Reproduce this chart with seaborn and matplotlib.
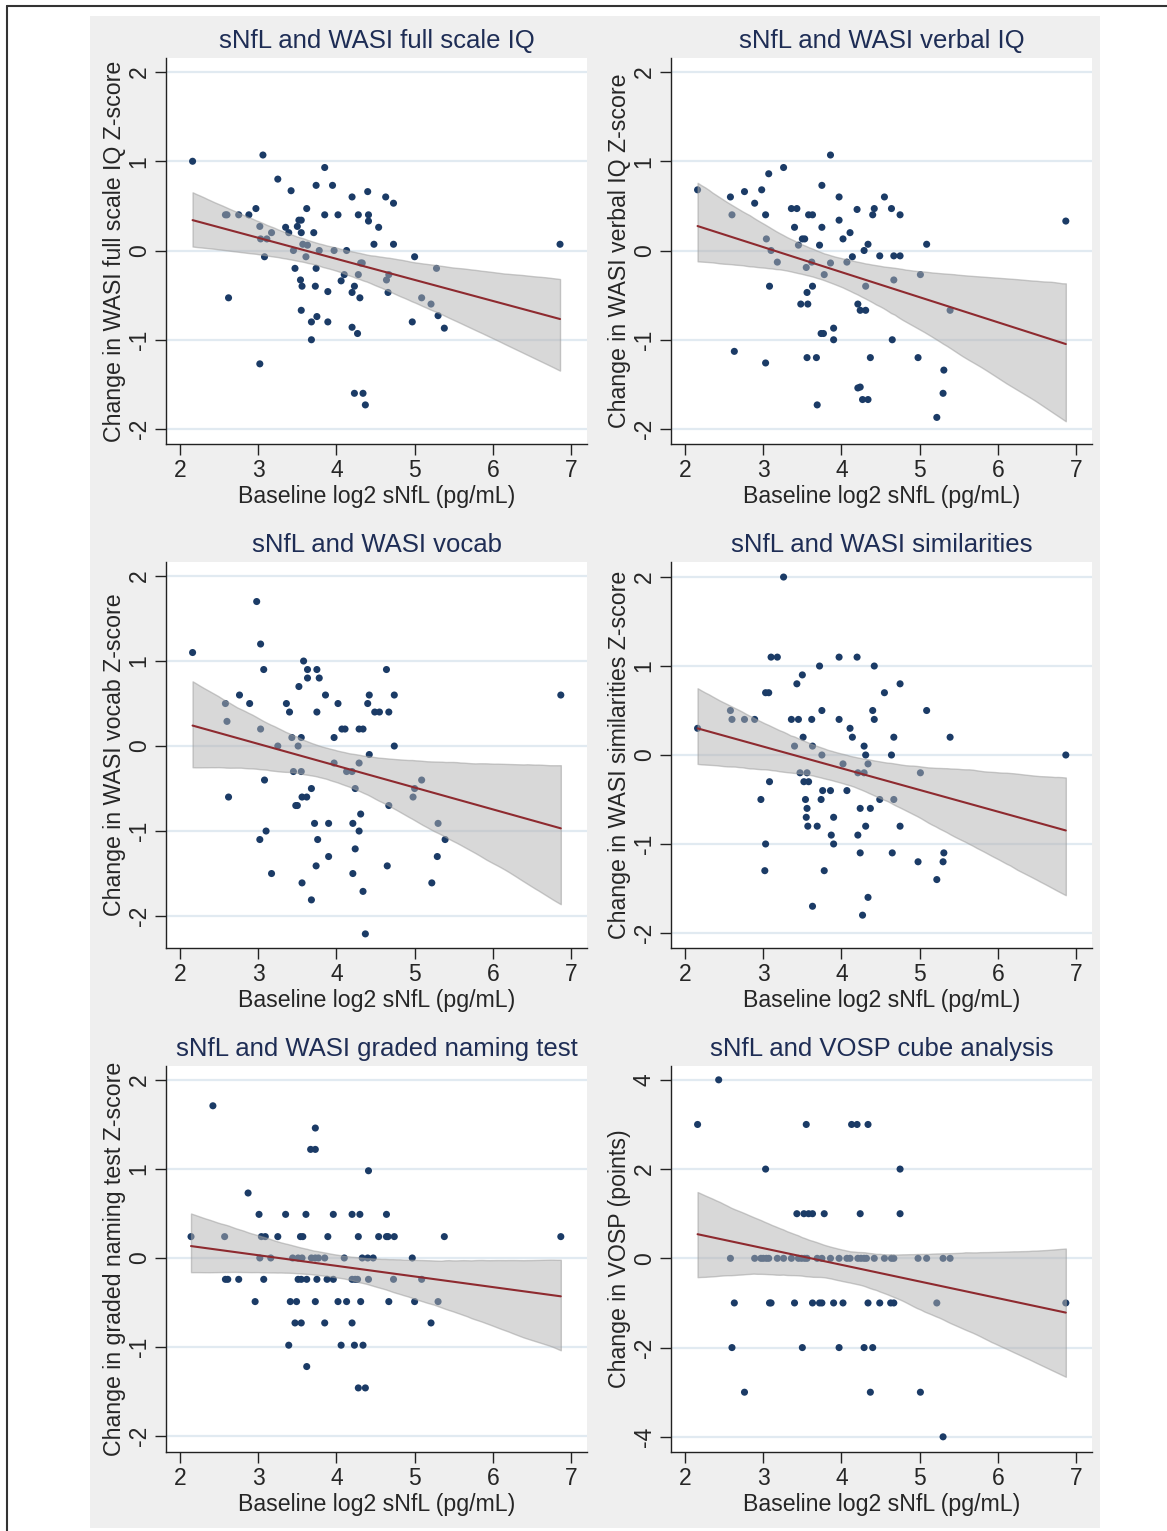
import matplotlib
matplotlib.use("Agg")
import matplotlib.pyplot as plt
import seaborn as sns
from matplotlib.patches import Rectangle
from matplotlib.lines import Line2D

# ---- data ----
fsiq_x = [2.16, 3.06, 2.62, 3.02, 3.25, 3.42, 3.85, 3.74, 3.95, 2.97, 2.88, 2.75, 2.58, 2.60,
          3.02, 3.35, 3.39, 3.17, 3.50, 3.52, 3.55, 3.62, 3.55, 3.71, 3.85, 4.02, 4.20, 4.40,
          4.28, 4.41, 4.41, 4.54, 4.63, 4.73, 4.48, 4.73, 6.86, 3.03, 3.11, 3.08, 3.45, 3.57,
          3.63, 3.61, 3.78, 3.97, 4.13, 3.47, 3.74, 3.54, 3.56, 3.73, 3.89, 4.06, 4.10, 4.23,
          4.20, 4.30, 4.28, 4.31, 4.33, 5.00, 5.28, 4.64, 4.67, 4.66, 5.09, 5.21, 5.30, 5.38,
          4.97, 3.55, 3.75, 3.68, 3.89, 4.20, 4.27, 3.68, 4.23, 4.34, 4.37]
fsiq_y = [1.00, 1.07, -0.53, -1.27, 0.80, 0.67, 0.93, 0.73, 0.73, 0.47, 0.40, 0.40, 0.40, 0.40,
          0.27, 0.26, 0.20, 0.20, 0.27, 0.34, 0.34, 0.47, 0.20, 0.20, 0.40, 0.40, 0.60, 0.66,
          0.40, 0.40, 0.33, 0.26, 0.60, 0.53, 0.07, 0.07, 0.07, 0.13, 0.13, -0.07, 0.00, 0.07,
          0.06, -0.07, 0.00, 0.00, 0.00, -0.20, -0.20, -0.33, -0.40, -0.40, -0.46, -0.34, -0.27, -0.40,
          -0.47, -0.53, -0.27, -0.14, -0.14, -0.07, -0.20, -0.33, -0.27, -0.47, -0.53, -0.60, -0.73, -0.87,
          -0.80, -0.67, -0.74, -0.80, -0.80, -0.86, -0.93, -1.00, -1.60, -1.60, -1.73]

viq_x = [3.86, 3.26, 3.07, 2.16, 3.75, 2.58, 2.76, 2.98, 2.89, 2.60, 3.03, 3.36, 3.43, 3.58,
         3.63, 3.97, 4.55, 4.20, 4.42, 4.40, 4.64, 4.75, 6.87, 3.97, 3.40, 3.75, 4.11, 4.02,
         3.50, 3.53, 3.04, 3.45, 3.72, 4.34, 4.29, 5.09, 3.10, 3.18, 3.55, 3.62, 3.86, 4.07,
         4.14, 4.49, 4.67, 4.75, 3.78, 5.01, 4.31, 4.67, 3.08, 3.56, 3.63, 3.48, 3.57, 4.21,
         4.24, 4.31, 5.39, 3.74, 3.77, 3.90, 3.90, 4.65, 2.63, 3.03, 3.56, 3.68, 4.37, 4.98,
         5.31, 4.21, 4.24, 4.27, 4.34, 3.69, 5.30, 5.22]
viq_y = [1.07, 0.93, 0.86, 0.68, 0.73, 0.60, 0.66, 0.68, 0.53, 0.40, 0.40, 0.47, 0.47, 0.40,
         0.40, 0.60, 0.60, 0.46, 0.47, 0.40, 0.47, 0.40, 0.33, 0.34, 0.26, 0.26, 0.20, 0.13,
         0.13, 0.13, 0.13, 0.06, 0.06, 0.07, 0.00, 0.07, 0.00, -0.13, -0.19, -0.13, -0.14, -0.13,
         -0.07, -0.06, -0.06, -0.06, -0.27, -0.27, -0.40, -0.33, -0.40, -0.47, -0.40, -0.60, -0.60, -0.60,
         -0.67, -0.67, -0.67, -0.93, -0.93, -0.87, -1.00, -1.00, -1.13, -1.26, -1.20, -1.20, -1.20, -1.20,
         -1.34, -1.54, -1.53, -1.67, -1.67, -1.73, -1.60, -1.87]

vocab_x = [2.98, 2.16, 3.03, 3.58, 3.07, 3.63, 3.75, 3.63, 3.78, 4.64, 3.52, 2.76, 3.86, 4.42,
           4.74, 6.87, 2.58, 2.89, 3.36, 4.02, 4.40, 3.40, 3.75, 4.49, 4.55, 4.67, 2.60, 3.03,
           4.07, 4.11, 4.29, 4.34, 3.97, 3.43, 3.55, 3.25, 3.51, 4.74, 4.42, 3.97, 4.29, 3.45,
           3.55, 4.13, 4.20, 3.08, 5.09, 3.68, 4.24, 5.00, 2.62, 3.56, 3.62, 4.98, 3.48, 3.50,
           4.67, 4.31, 3.72, 3.90, 4.21, 5.30, 3.10, 4.29, 3.02, 3.76, 5.39, 4.24, 3.90, 5.29,
           3.17, 3.74, 4.65, 4.21, 3.56, 5.22, 4.34, 3.68, 4.37]
vocab_y = [1.70, 1.10, 1.20, 1.00, 0.90, 0.90, 0.90, 0.80, 0.80, 0.90, 0.70, 0.60, 0.60, 0.60,
           0.60, 0.60, 0.50, 0.50, 0.50, 0.50, 0.50, 0.40, 0.40, 0.40, 0.40, 0.40, 0.29, 0.20,
           0.20, 0.20, 0.20, 0.20, 0.10, 0.10, 0.10, 0.00, 0.00, 0.00, -0.10, -0.20, -0.20, -0.30,
           -0.30, -0.30, -0.30, -0.40, -0.40, -0.50, -0.50, -0.50, -0.60, -0.60, -0.60, -0.60, -0.70, -0.70,
           -0.70, -0.80, -0.91, -0.91, -0.91, -0.91, -1.00, -1.00, -1.10, -1.10, -1.10, -1.21, -1.30, -1.30,
           -1.50, -1.41, -1.41, -1.50, -1.61, -1.61, -1.71, -1.81, -2.21]

sim_x = [3.26, 3.10, 3.18, 3.97, 4.20, 3.72, 4.42, 3.50, 3.43, 4.75, 3.03, 3.07, 4.55, 2.58,
         3.75, 4.40, 5.09, 2.60, 2.76, 2.89, 3.36, 3.45, 3.62, 3.97, 4.42, 2.16, 4.11, 3.51,
         4.14, 4.67, 5.39, 3.40, 3.63, 4.29, 3.75, 4.31, 4.64, 6.87, 4.02, 4.34, 3.47, 3.56,
         4.21, 4.29, 5.01, 3.08, 3.52, 3.58, 3.76, 3.86, 4.07, 2.97, 3.54, 3.74, 4.49, 4.67,
         3.56, 4.24, 4.37, 3.55, 3.90, 3.57, 3.69, 4.31, 4.75, 3.87, 4.21, 3.03, 3.90, 4.24,
         4.65, 5.31, 4.98, 5.30, 3.02, 3.78, 5.22, 4.34, 3.63, 4.27]
sim_y = [2.00, 1.10, 1.10, 1.10, 1.10, 1.00, 1.00, 0.90, 0.80, 0.80, 0.70, 0.70, 0.70, 0.50,
         0.50, 0.50, 0.50, 0.40, 0.40, 0.40, 0.40, 0.40, 0.40, 0.40, 0.40, 0.30, 0.30, 0.20,
         0.20, 0.20, 0.20, 0.10, 0.10, 0.10, 0.00, 0.00, 0.00, 0.00, -0.10, -0.10, -0.20, -0.20,
         -0.20, -0.20, -0.20, -0.30, -0.30, -0.30, -0.40, -0.40, -0.40, -0.50, -0.50, -0.50, -0.50, -0.50,
         -0.60, -0.60, -0.60, -0.70, -0.70, -0.80, -0.80, -0.80, -0.80, -0.90, -0.90, -1.00, -1.00, -1.10,
         -1.10, -1.10, -1.20, -1.20, -1.30, -1.30, -1.40, -1.60, -1.70, -1.80]

gnt_x = [2.42, 3.73, 3.67, 3.73, 4.41, 2.87, 3.01, 3.35, 3.61, 3.96, 4.20, 4.30, 4.64,
         2.14, 2.57, 3.04, 3.09, 3.25, 3.54, 3.57, 3.89, 4.28, 4.54, 4.64, 4.66, 4.74, 5.38, 6.87,
         3.02, 3.16, 3.44, 3.51, 3.56, 3.68, 3.73, 3.77, 3.85, 4.10, 4.33, 4.40, 4.47, 4.97,
         2.58, 2.61, 2.75, 3.07, 3.51, 3.55, 3.62, 3.75, 3.88, 3.96, 4.20, 4.24, 4.27, 4.41, 4.73, 5.09,
         2.96, 3.41, 3.49, 3.73, 4.02, 4.13, 4.31, 4.67, 5.00, 5.30,
         3.47, 3.55, 3.85, 4.20, 5.21,
         3.39, 4.06, 4.23, 4.34,
         3.62,
         4.28, 4.37]
gnt_y = [1.71, 1.46, 1.22, 1.22, 0.98, 0.73, 0.49, 0.49, 0.49, 0.49, 0.49, 0.49, 0.49,
         0.24, 0.24, 0.24, 0.24, 0.24, 0.24, 0.24, 0.24, 0.24, 0.24, 0.24, 0.24, 0.24, 0.24, 0.24,
         0.00, 0.00, 0.00, 0.00, 0.00, 0.00, 0.00, 0.00, 0.00, 0.00, 0.00, 0.00, 0.00, 0.00,
         -0.24, -0.24, -0.24, -0.24, -0.24, -0.24, -0.24, -0.24, -0.24, -0.24, -0.24, -0.24, -0.24, -0.24, -0.24, -0.24,
         -0.49, -0.49, -0.49, -0.49, -0.49, -0.49, -0.49, -0.49, -0.49, -0.49,
         -0.73, -0.73, -0.73, -0.73, -0.73,
         -0.98, -0.98, -0.98, -0.98,
         -1.22,
         -1.46, -1.46]

cube_x = [2.43,
          2.16, 3.55, 4.13, 4.20, 4.34,
          3.03, 4.75,
          3.43, 3.52, 3.58, 3.63, 3.78, 4.24, 4.75,
          2.58, 2.89, 2.97, 3.00, 3.04, 3.07, 3.18, 3.26, 3.36, 3.45, 3.49, 3.53, 3.56, 3.69,
          3.75, 3.86, 3.97, 4.07, 4.11, 4.21, 4.25, 4.29, 4.32, 4.42, 4.55, 4.64, 4.67, 4.98,
          5.09, 5.30, 5.39,
          2.63, 3.08, 3.10, 3.40, 3.63, 3.72, 3.75, 3.90, 4.02, 4.34, 4.49, 4.63, 4.67, 5.22, 6.87,
          2.60, 3.50, 3.97, 4.29, 4.40,
          2.76, 4.37, 5.01,
          5.30]
cube_y = [4,
          3, 3, 3, 3, 3,
          2, 2,
          1, 1, 1, 1, 1, 1, 1,
          0, 0, 0, 0, 0, 0, 0, 0, 0, 0, 0, 0, 0, 0,
          0, 0, 0, 0, 0, 0, 0, 0, 0, 0, 0, 0, 0, 0,
          0, 0, 0,
          -1, -1, -1, -1, -1, -1, -1, -1, -1, -1, -1, -1, -1, -1, -1,
          -2, -2, -2, -2, -2,
          -3, -3, -3,
          -4]

titles = ["sNfL and WASI full scale IQ", "sNfL and WASI verbal IQ",
          "sNfL and WASI vocab", "sNfL and WASI similarities",
          "sNfL and WASI graded naming test", "sNfL and VOSP cube analysis"]
ylabels = ["Change in WASI full scale IQ Z-score", "Change in WASI verbal IQ Z-score",
           "Change in WASI vocab Z-score", "Change in WASI similarities Z-score",
           "Change in graded naming test Z-score", "Change in VOSP (points)"]
xlabel = "Baseline log2 sNfL (pg/mL)"
xticks = [2, 3, 4, 5, 6, 7]
yticks = [[-2, -1, 0, 1, 2]] * 5 + [[-4, -2, 0, 2, 4]]
ylims = [(-2.168, 2.157), (-2.168, 2.157), (-2.376, 2.165),
         (-2.169, 2.169), (-2.18, 2.157), (-4.34, 4.31)]

panels = [(fsiq_x, fsiq_y), (viq_x, viq_y), (vocab_x, vocab_y),
          (sim_x, sim_y), (gnt_x, gnt_y), (cube_x, cube_y)]

# ---- style ----
sns.set_theme(style="white")
plt.rcParams['font.family'] = ['Liberation Sans', 'DejaVu Sans']
plt.rcParams['axes.unicode_minus'] = False

W, H = 1167, 1531
fig = plt.figure(figsize=(W / 100, H / 100), dpi=100, facecolor="white")

# grey graph region and page border
fig.add_artist(Rectangle((90 / W, 3 / H), 1010 / W, 1512 / H, transform=fig.transFigure,
                         facecolor="#efefef", edgecolor="none", zorder=0))
fig.add_artist(Line2D([7 / W, 1], [1 - 6 / H, 1 - 6 / H], transform=fig.transFigure,
                      color="#333333", lw=1.5))
fig.add_artist(Line2D([7 / W, 7 / W], [0, 1 - 6 / H], transform=fig.transFigure,
                      color="#333333", lw=1.5))

col_left = [166, 671]
row_top = [58, 562, 1066]
aw, ah = 421, 386

dot_col = "#1b3b66"
line_col = "#8e2a2f"
title_col = "#1e2d55"

for i, (xs, ys) in enumerate(panels):
    r, c = divmod(i, 2)
    left = col_left[c] / W
    bottom = 1 - (row_top[r] + ah) / H
    ax = fig.add_axes([left, bottom, aw / W, ah / H])
    ax.set_facecolor("white")

    sns.scatterplot(x=xs, y=ys, ax=ax, color=dot_col, s=26, edgecolor="none", zorder=3)
    sns.regplot(x=xs, y=ys, ax=ax, scatter=False, ci=95, n_boot=2000, seed=3,
                line_kws=dict(color=line_col, lw=1.5, zorder=5))
    band = ax.collections[-1]
    band.set_alpha(0.5)
    band.set_facecolor("#b2b2b2")
    band.set_edgecolor("#9a9a9a")
    band.set_linewidth(1.0)
    band.set_zorder(4)

    ax.set_xlim(1.82, 7.205)
    ax.set_ylim(*ylims[i])
    ax.set_xticks(xticks)
    ax.set_yticks(yticks[i])
    for t in yticks[i]:
        ax.axhline(t, color="#e1eaf1", lw=1.6, zorder=1)

    for side in ["top", "right"]:
        ax.spines[side].set_visible(False)
    for side in ["left", "bottom"]:
        ax.spines[side].set_color("#222222")
        ax.spines[side].set_linewidth(1.0)

    ax.tick_params(axis="both", direction="out", length=8, width=1.0, color="#222222",
                   labelsize=16.5, pad=3, left=True, bottom=True)
    ax.tick_params(axis="y", labelrotation=90)
    for lab in ax.get_yticklabels():
        lab.set_verticalalignment("center")

    ax.set_title(titles[i], fontsize=18.5, color=title_col, pad=7)
    ax.set_xlabel(xlabel, fontsize=16.7, labelpad=2)
    ax.set_ylabel(ylabels[i], fontsize=16.7, labelpad=1)

fig.savefig("out.png", dpi=100, facecolor="white")
